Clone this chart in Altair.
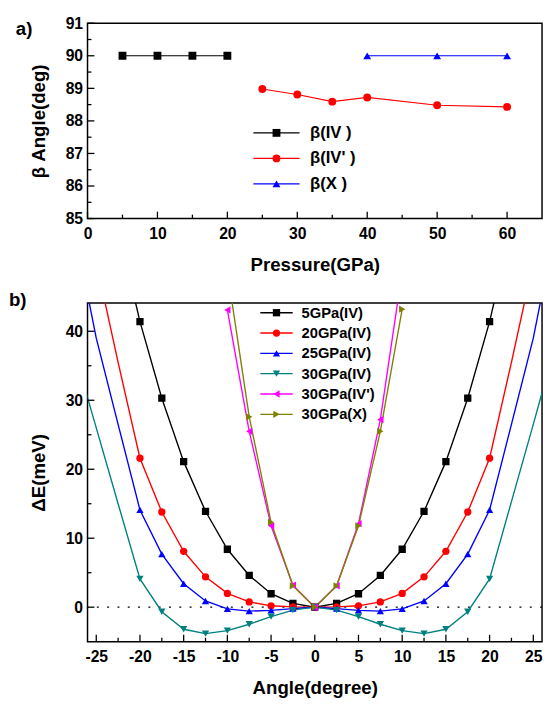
import altair as alt
import pandas as pd

FONT = "Liberation Sans"

# ---------------- panel a data ----------------
a_names = ["β(IV )", "β(IV' )", "β(X )"]
a_colors = ["#000000", "#ff0000", "#0000ff"]
a_shapes = ["square", "circle", "triangle-up"]
a_p_iv = [5, 10, 15, 20]
a_b_iv = [90, 90, 90, 90]
a_p_ivp = [25, 30, 35, 40, 50, 60]
a_b_ivp = [88.98, 88.81, 88.59, 88.72, 88.48, 88.43]
a_p_x = [40, 50, 60]
a_b_x = [90, 90, 90]
a_xticks = [0, 10, 20, 30, 40, 50, 60]
a_xminor = [5, 15, 25, 35, 45, 55]
a_yticks = [85, 86, 87, 88, 89, 90, 91]
a_yminor = [85.5, 86.5, 87.5, 88.5, 89.5, 90.5]

# ---------------- panel b data ----------------
b_names = ["5GPa(IV)", "20GPa(IV)", "25GPa(IV)", "30GPa(IV)", "30GPa(IV')", "30GPa(X)"]
b_colors = ["#000000", "#ff0000", "#0000ff", "#008080", "#ff00ff", "#808000"]
b_shapes = ["square", "circle", "triangle-up", "triangle-down", "triangle-left", "triangle-right"]
b_angles = [-27.5, -25, -22.5, -20, -17.5, -15, -12.5, -10, -7.5, -5, -2.5, 0,
            2.5, 5, 7.5, 10, 12.5, 15, 17.5, 20, 22.5, 25, 27.5]
b_e5 = [92, 72, 55, 41.4, 30.3, 21.1, 13.9, 8.4, 4.6, 1.95, 0.55, 0,
        0.55, 1.95, 4.6, 8.4, 13.9, 21.1, 30.3, 41.4, 55, 72, 92]
b_e20 = [70, 50, 35.5, 21.6, 13.8, 8.1, 4.4, 2.0, 0.76, 0.2, 0.05, 0,
         0.05, 0.2, 0.76, 2.0, 4.4, 8.1, 13.8, 21.6, 35.5, 50, 70]
b_e25 = [55, 39, 26.5, 14.1, 7.7, 3.4, 0.9, -0.24, -0.57, -0.47, -0.2, 0,
         -0.2, -0.47, -0.57, -0.24, 0.9, 3.4, 7.7, 14.1, 26.5, 39, 55]
b_e30 = [37, 26, 15, 4.1, -0.66, -3.2, -3.84, -3.4, -2.47, -1.38, -0.43, 0,
         -0.43, -1.38, -2.47, -3.4, -3.84, -3.2, -0.66, 4.1, 15.3, 26.5, 38]
b_angles2 = [-10, -7.5, -5, -2.5, 0, 2.5, 5, 7.5, 10]
b_e30p = [43.1, 25.5, 11.8, 3.2, 0, 3.1, 12.1, 27.2, 48.7]
b_e30x = [48.7, 27.6, 12.3, 3.1, 0, 3.1, 11.8, 25.5, 43.2]
b_xticks = [-25, -20, -15, -10, -5, 0, 5, 10, 15, 20, 25]
b_xminor = [-22.5, -17.5, -12.5, -7.5, -2.5, 2.5, 7.5, 12.5, 17.5, 22.5]
b_yticks = [0, 10, 20, 30, 40]
b_yminor = [5, 15, 25, 35]

# ---------------- tables ----------------
def long_table(xs_list, ys_list, names):
    rows = []
    for xs, ys, n in zip(xs_list, ys_list, names):
        for x, y in zip(xs, ys):
            rows.append({"x": x, "y": y, "s": n, "m": n})
    return pd.DataFrame(rows)

dfa = long_table([a_p_iv, a_p_ivp, a_p_x], [a_b_iv, a_b_ivp, a_b_x], a_names)
dfb = long_table([b_angles] * 4 + [b_angles2] * 2,
                 [b_e5, b_e20, b_e25, b_e30, b_e30p, b_e30x], b_names)

AXIS = dict(labelFont=FONT, labelFontSize=16, labelFontWeight="bold", labelColor="black",
            titleFont=FONT, titleFontSize=19, titleFontWeight="bold", titleColor="black",
            ticks=False, domain=False, grid=False, labelFlush=False,
            labelExpr="'' + datum.value")


def inner_ticks(xmaj, xmin, ymaj, ymin, xs, ys, xaxis, yaxis, H):
    layers = []
    for vals, ln in ((xmaj, 7), (xmin, 4)):
        layers.append(alt.Chart(pd.DataFrame({"x": vals})).mark_rule(color="black", strokeWidth=1.3)
                      .encode(x=alt.X("x:Q", scale=xs, axis=xaxis),
                              y=alt.value(H), y2=alt.value(H - ln)))
    for vals, ln in ((ymaj, 7), (ymin, 4)):
        layers.append(alt.Chart(pd.DataFrame({"y": vals})).mark_rule(color="black", strokeWidth=1.3)
                      .encode(y=alt.Y("y:Q", scale=ys, axis=yaxis),
                              x=alt.value(0), x2=alt.value(ln)))
    return layers


def panel(df, names, colors, shapes, xs, ys, xaxis, yaxis,
          lw, msize, legx, legy, lfs, lrp, lpath, lsize, msym, loff, tag, tagx, tagy,
          marker_filter=None):
    line_leg = alt.Legend(orient="none", legendX=legx, legendY=legy, title=None,
                          symbolType=lpath, symbolSize=lsize, symbolStrokeWidth=lw,
                          labelFont=FONT, labelFontSize=lfs, labelFontWeight="bold",
                          labelColor="black", labelOffset=loff, rowPadding=lrp, padding=0)
    mk_leg = alt.Legend(orient="none", legendX=legx, legendY=legy, title=None,
                        symbolSize=msym, labelOpacity=0,
                        labelFont=FONT, labelFontSize=lfs, labelFontWeight="bold",
                        rowPadding=lrp, padding=0, symbolOpacity=1)
    # line legend: order through a sort list; marker legend: order through an explicit
    # domain shared by colour and shape, so those two merge into one legend.
    lines = alt.Chart(df).mark_line(strokeWidth=lw, clip=True).encode(
        x=alt.X("x:Q", scale=xs, axis=xaxis),
        y=alt.Y("y:Q", scale=ys, axis=yaxis),
        stroke=alt.Stroke("s:N", sort=names, scale=alt.Scale(range=colors), legend=line_leg),
    )
    pts_base = alt.Chart(df)
    if marker_filter:
        pts_base = pts_base.transform_filter(marker_filter)
    pts = pts_base.mark_point(filled=True, size=msize, opacity=1, clip=True).encode(
        x=alt.X("x:Q", scale=xs, axis=xaxis),
        y=alt.Y("y:Q", scale=ys, axis=yaxis),
        color=alt.Color("m:N", scale=alt.Scale(domain=names, range=colors), legend=mk_leg),
        shape=alt.Shape("m:N", scale=alt.Scale(domain=names, range=shapes), legend=mk_leg),
    )
    label = alt.Chart(pd.DataFrame({"t": [tag]})).mark_text(
        font=FONT, fontSize=19, fontWeight="bold", color="black", align="left",
        baseline="middle").encode(text="t:N", x=alt.value(tagx), y=alt.value(tagy))
    return lines, pts, label


# ---------------- panel a ----------------
WA, HA = 463, 199
xs_a = alt.Scale(domain=[0, 65], nice=False, zero=False)
ys_a = alt.Scale(domain=[85, 91], nice=False, zero=False)
xa_axis = alt.Axis(values=a_xticks, title="Pressure(GPa)", labelPadding=7, titlePadding=15, **AXIS)
ya_axis = alt.Axis(values=a_yticks, title="β Angle(deg)", labelPadding=5, titlePadding=17, **AXIS)
la, pa, ta = panel(dfa, a_names, a_colors, a_shapes, xs_a, ys_a, xa_axis, ya_axis,
                   1.2, 64, 184, 103.2, 17, 8, "M-4,0H4", 138, 64, 25.6, "a)", -73, 6)
panel_a = alt.layer(la, pa, ta, *inner_ticks(a_xticks, a_xminor, a_yticks, a_yminor,
                                             xs_a, ys_a, xa_axis, ya_axis, HA)
                    ).properties(width=WA, height=HA)

# ---------------- panel b ----------------
WB, HB = 463, 345
xs_b = alt.Scale(domain=[-26, 26], nice=False, zero=False)
ys_b = alt.Scale(domain=[-5, 44.1], nice=False, zero=False)
xb_axis = alt.Axis(values=b_xticks, title="Angle(degree)", labelPadding=7, titlePadding=15, **AXIS)
yb_axis = alt.Axis(values=b_yticks, title="ΔE(meV)", labelPadding=5, titlePadding=17, **AXIS)
lb, pb, tb = panel(dfb, b_names, b_colors, b_shapes, xs_b, ys_b, xb_axis, yb_axis,
                   1.4, 55, 185, 2.4, 15, 4.7, "M-4,0H4", 68, 55, 18, "b)", -80, -3,
                   marker_filter="abs(datum.x) <= 20")
zero = alt.Chart(pd.DataFrame({"y": [0]})).mark_rule(color="black", strokeWidth=1.3,
                                                     strokeDash=[2, 8.5]).encode(
    y=alt.Y("y:Q", scale=ys_b, axis=yb_axis))
panel_b = alt.layer(zero, lb, pb, tb, *inner_ticks(b_xticks, b_xminor, b_yticks, b_yminor,
                                                   xs_b, ys_b, xb_axis, yb_axis, HB)
                    ).properties(width=WB, height=HB)

chart = alt.vconcat(panel_a, panel_b, spacing=15).resolve_scale(
    x="independent", y="independent", stroke="independent", color="independent",
    shape="independent"
).properties(padding={"left": 0, "top": 0, "right": 0, "bottom": 0}
).configure_view(stroke="black", strokeWidth=1.5)

chart.save("out.html", embed_options={"renderer": "svg", "actions": False})
